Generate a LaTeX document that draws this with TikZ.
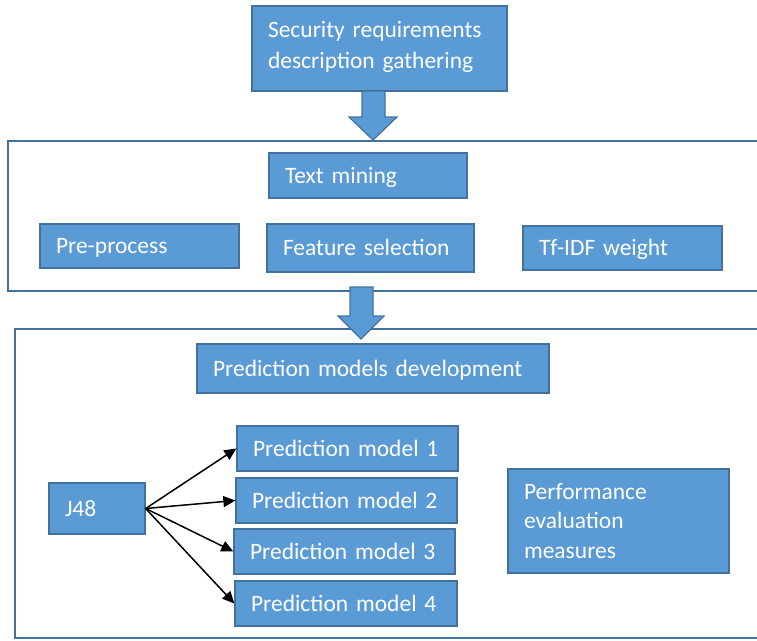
\documentclass[tikz,border=0pt]{standalone}
\usepackage{fontspec}
\setmainfont{Carlito}
\usetikzlibrary{arrows.meta}
\definecolor{boxfill}{HTML}{5B9BD5}
\definecolor{boxline}{HTML}{41719C}
\tikzset{
  blk/.style={draw=boxline, line width=1.3pt, fill=boxfill, text=white,
    inner xsep=16pt, inner ysep=0pt, align=left,
    font=\fontsize{23.5}{29.5}\selectfont, anchor=center},
  % struts fixing where the lines sit inside a box
  plain/.style={blk,
    execute at begin node=\rule[-7pt]{0pt}{29pt},
    execute at end node=\rule[-7pt]{0pt}{7pt}},
  tall/.style={blk, font=\fontsize{23.5}{31}\selectfont,
    execute at begin node=\rule{0pt}{22pt},
    execute at end node=\rule[-13pt]{0pt}{13pt}},
  frame/.style={draw=boxline, line width=1.3pt},
  bigarrow/.style={draw=boxline, line width=1.2pt, fill=boxfill, line join=miter},
  link/.style={draw=black, line width=1.5pt, -{Triangle[length=12pt,width=11pt]}}
}
\begin{document}
\begin{tikzpicture}[x=1pt, y=-1pt]
\useasboundingbox (0,0) rectangle (757,640);

% frames round the text-mining and model stages
\draw[frame] (757,141) -- (8,141) -- (8,291) -- (757,291);
\draw[frame] (757,329) -- (15,329) -- (15,638) -- (757,638);

% gathering stage
\node[tall, text width=223pt, minimum height=85pt] (gather) at (379.5,48.5)
  {Security requirements\\description gathering};

% text mining stage
\node[plain, text width=166pt, minimum height=45pt] (tm) at (368,175.5) {Text mining};
\node[plain, text width=167pt, minimum height=44pt] (pre) at (139.5,246) {Pre-process};
\node[plain, text width=175pt, minimum height=48pt] (fs) at (370.5,248) {Feature selection};
\node[plain, text width=167pt, minimum height=44pt] (tf) at (622.5,248) {Tf-IDF weight};

% model development stage
\node[plain, text width=320pt, minimum height=49pt] (pmd) at (373,368.5) {Prediction models development};
\node[plain, text width=64pt, minimum height=51pt] (j48) at (97,508.5) {J48};
\node[plain, text width=189pt, minimum height=45pt] (pm1) at (347.5,448.5) {Prediction model 1};
\node[plain, text width=189pt, minimum height=45pt] (pm2) at (346.5,500.5) {Prediction model 2};
\node[plain, text width=189pt, minimum height=45pt] (pm3) at (344.5,551.5) {Prediction model 3};
\node[plain, text width=190pt, minimum height=45pt] (pm4) at (346,603.5) {Prediction model 4};
\node[plain, text width=189pt, minimum height=104pt] (perf) at (618.5,521)
  {Performance\\evaluation\\measures};

% block arrows between the stages
\draw[bigarrow] (362,91) -- (385,91) -- (385,117) -- (397,117) -- (373,140)
  -- (349,117) -- (362,117) -- cycle;
\draw[bigarrow] (350,287) -- (373,287) -- (373,316) -- (384,316) -- (361,339)
  -- (338,316) -- (350,316) -- cycle;

% J48 feeds the four models
\draw[link] (j48.east) -- (pm1.west);
\draw[link] (j48.east) -- (pm2.west);
\draw[link] (j48.east) -- (pm3.west);
\draw[link] (j48.east) -- (pm4.west);
\end{tikzpicture}
\end{document}
